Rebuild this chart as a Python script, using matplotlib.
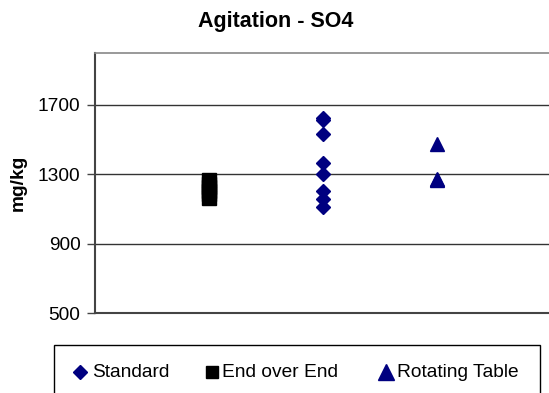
import matplotlib
matplotlib.use("Agg")
import matplotlib.pyplot as plt
from matplotlib.lines import Line2D
from matplotlib.patches import Rectangle

plt.rcParams['font.family'] = ['Liberation Sans', 'DejaVu Sans']

title = "Agitation - SO4"
ylabel = "mg/kg"
series_names = ["Standard", "End over End", "Rotating Table"]
series_x = [2, 1, 3]
standard_vals = [1625, 1615, 1533, 1364, 1302, 1206, 1160, 1114]
eoe_vals = [1165, 1185, 1205, 1225, 1245, 1268]
rotating_vals = [1475, 1268, 1275]
yticks = [500, 900, 1300, 1700]

W, H = 549, 393
fig = plt.figure(figsize=(W / 100, H / 100), dpi=100)
left, right, top, bottom = 95, 551, 53, 313
ax = fig.add_axes([left / W, 1 - bottom / H, (right - left) / W, (bottom - top) / H])
ax.set_xlim(0, 4)
ax.set_ylim(500, 2000)

navy = '#000080'
ax.plot([series_x[0]] * len(standard_vals), standard_vals, linestyle='none', marker='D',
        markersize=6.8, color=navy, zorder=3, clip_on=False)
ax.plot([series_x[1]] * len(eoe_vals), eoe_vals, linestyle='none', marker='s',
        markersize=9.5, color='black', zorder=3, clip_on=False)
ax.plot([series_x[2]] * len(rotating_vals), rotating_vals, linestyle='none', marker='^',
        markersize=10, color=navy, zorder=3, clip_on=False)

for y in yticks[1:]:
    ax.axhline(y, color='#333333', linewidth=1.0, zorder=1)

ax.set_yticks(yticks)
ax.set_yticklabels([str(v) for v in yticks], fontsize=13.8)
ax.set_xticks([])
ax.tick_params(axis='y', direction='out', length=6, width=1, color='#444444', pad=4.5)
ax.spines['right'].set_visible(False)
ax.spines['top'].set_color('#888888')
ax.spines['top'].set_linewidth(1.2)
ax.spines['left'].set_color('#444444')
ax.spines['left'].set_linewidth(1.5)
ax.spines['bottom'].set_color('#444444')
ax.spines['bottom'].set_linewidth(1.5)

fig.text(18 / W, 1 - 183 / H, ylabel, fontsize=13.8, fontweight='bold', rotation=90,
         ha='center', va='center')
fig.text(276 / W, 1 - 27 / H, title, fontsize=15.5, fontweight='bold', ha='center', va='baseline')

# legend box
fig.patches.append(Rectangle((54 / W, 1 - 400 / H), (540 - 54) / W, (400 - 345) / H,
                             transform=fig.transFigure, fill=False, edgecolor='black',
                             linewidth=1.0, clip_on=False))
leg_base = 1 - 377 / H
leg_mid = 1 - 372 / H
leg_items = [(80, 'D', navy, 7, 92), (212, 's', 'black', 8, 222), (386, '^', navy, 11, 397)]
for (mx, mk, col, ms, tx), name in zip(leg_items, series_names):
    fig.add_artist(Line2D([mx / W], [leg_mid], marker=mk, color=col, markersize=ms,
                          linestyle='none', transform=fig.transFigure))
    fig.text(tx / W, leg_base, name, fontsize=13.8, ha='left', va='baseline')

fig.savefig('out.png', dpi=100)
